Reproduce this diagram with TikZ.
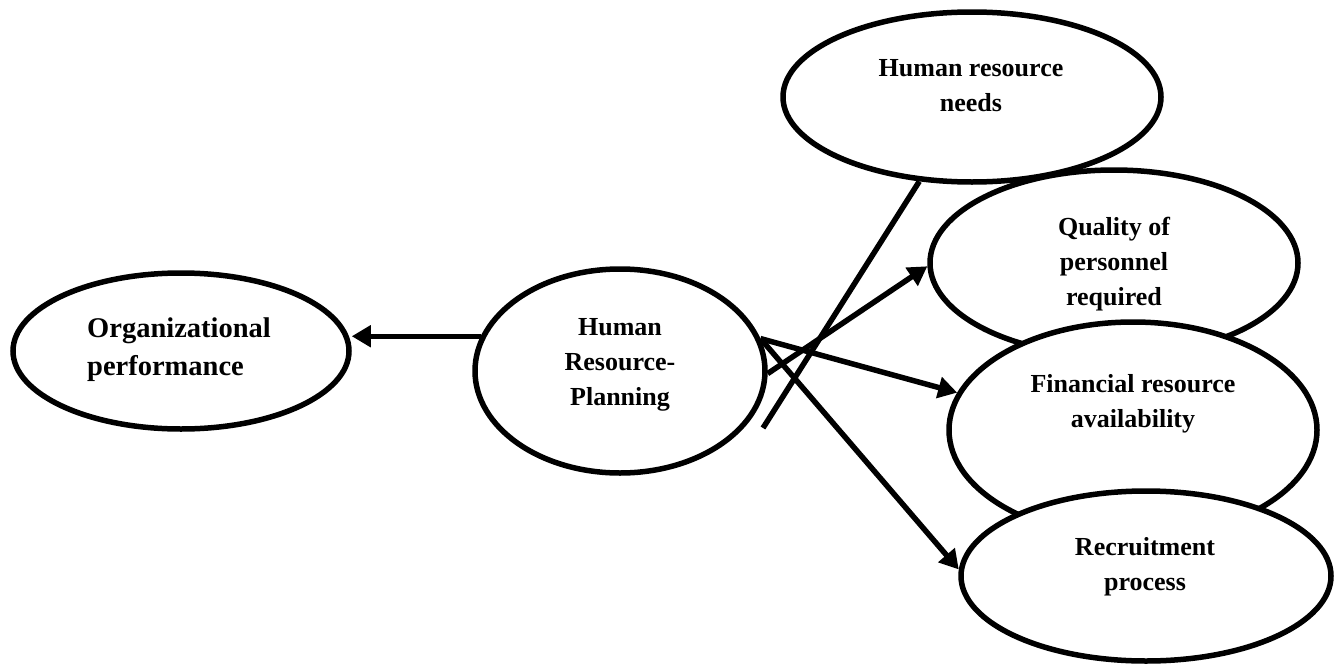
\documentclass[tikz,border=0pt]{standalone}
\usepackage{fontspec}
\setmainfont{Liberation Serif}
\usetikzlibrary{shapes.geometric,arrows.meta}
\tikzset{
	oval/.style={draw, ellipse, line width=5.5pt, fill=white, inner sep=0pt},
	lbl/.style={font=\bfseries\fontsize{26}{35}\selectfont, align=center, inner sep=0pt, anchor=north},
	link/.style={line width=5.5pt},
	arr/.style={link, -{Triangle[length=19pt,width=21pt]}}
}
\begin{document}
\begin{tikzpicture}[x=1pt,y=-1pt]
		\useasboundingbox (0,0) rectangle (1339,664);
		% ovals
		\node[oval, minimum width=336pt, minimum height=156pt] (org) at (181,351) {};
		\node[oval, minimum width=290pt, minimum height=204pt] (hrp) at (620,371) {};
		\node[oval, minimum width=378pt, minimum height=170pt] (hrn) at (972,97) {};
		\node[oval, minimum width=368pt, minimum height=186pt] (qual) at (1114,263) {};
		\node[oval, minimum width=368pt, minimum height=216pt] (fin) at (1133,430) {};
		\node[oval, minimum width=370pt, minimum height=170pt] (recr) at (1146,576) {};
		% texts
		\node[lbl, anchor=north west, align=left, font=\bfseries\fontsize{28.5}{38}\selectfont] (org-t) at (87,318) {Organizational\\performance};
		\node[lbl] (hrp-t) at (620,318) {Human\\Resource-\\Planning};
		\node[lbl] (hrn-t) at (971,59) {Human resource\\needs};
		\node[lbl] (qual-t) at (1114,217) {Quality of\\personnel\\required};
		\node[lbl] (fin-t) at (1133,374) {Financial resource\\availability};
		\node[lbl] (recr-t) at (1145,537) {Recruitment\\process};
		% links
		\coordinate (hrn-foot) at (763,428);
		\draw[arr] (hrp.166) -- (hrp.166 -| org.east);
		\draw[arr] (hrp.-1) -- (qual.181.5);
		\draw[arr] (hrp.13) -- (fin.168.6);
		\draw[arr] (hrp.13) -- (recr.178.5);
		\draw[link] (hrn-foot) -- (hrn.238);
	\end{tikzpicture}
\end{document}
